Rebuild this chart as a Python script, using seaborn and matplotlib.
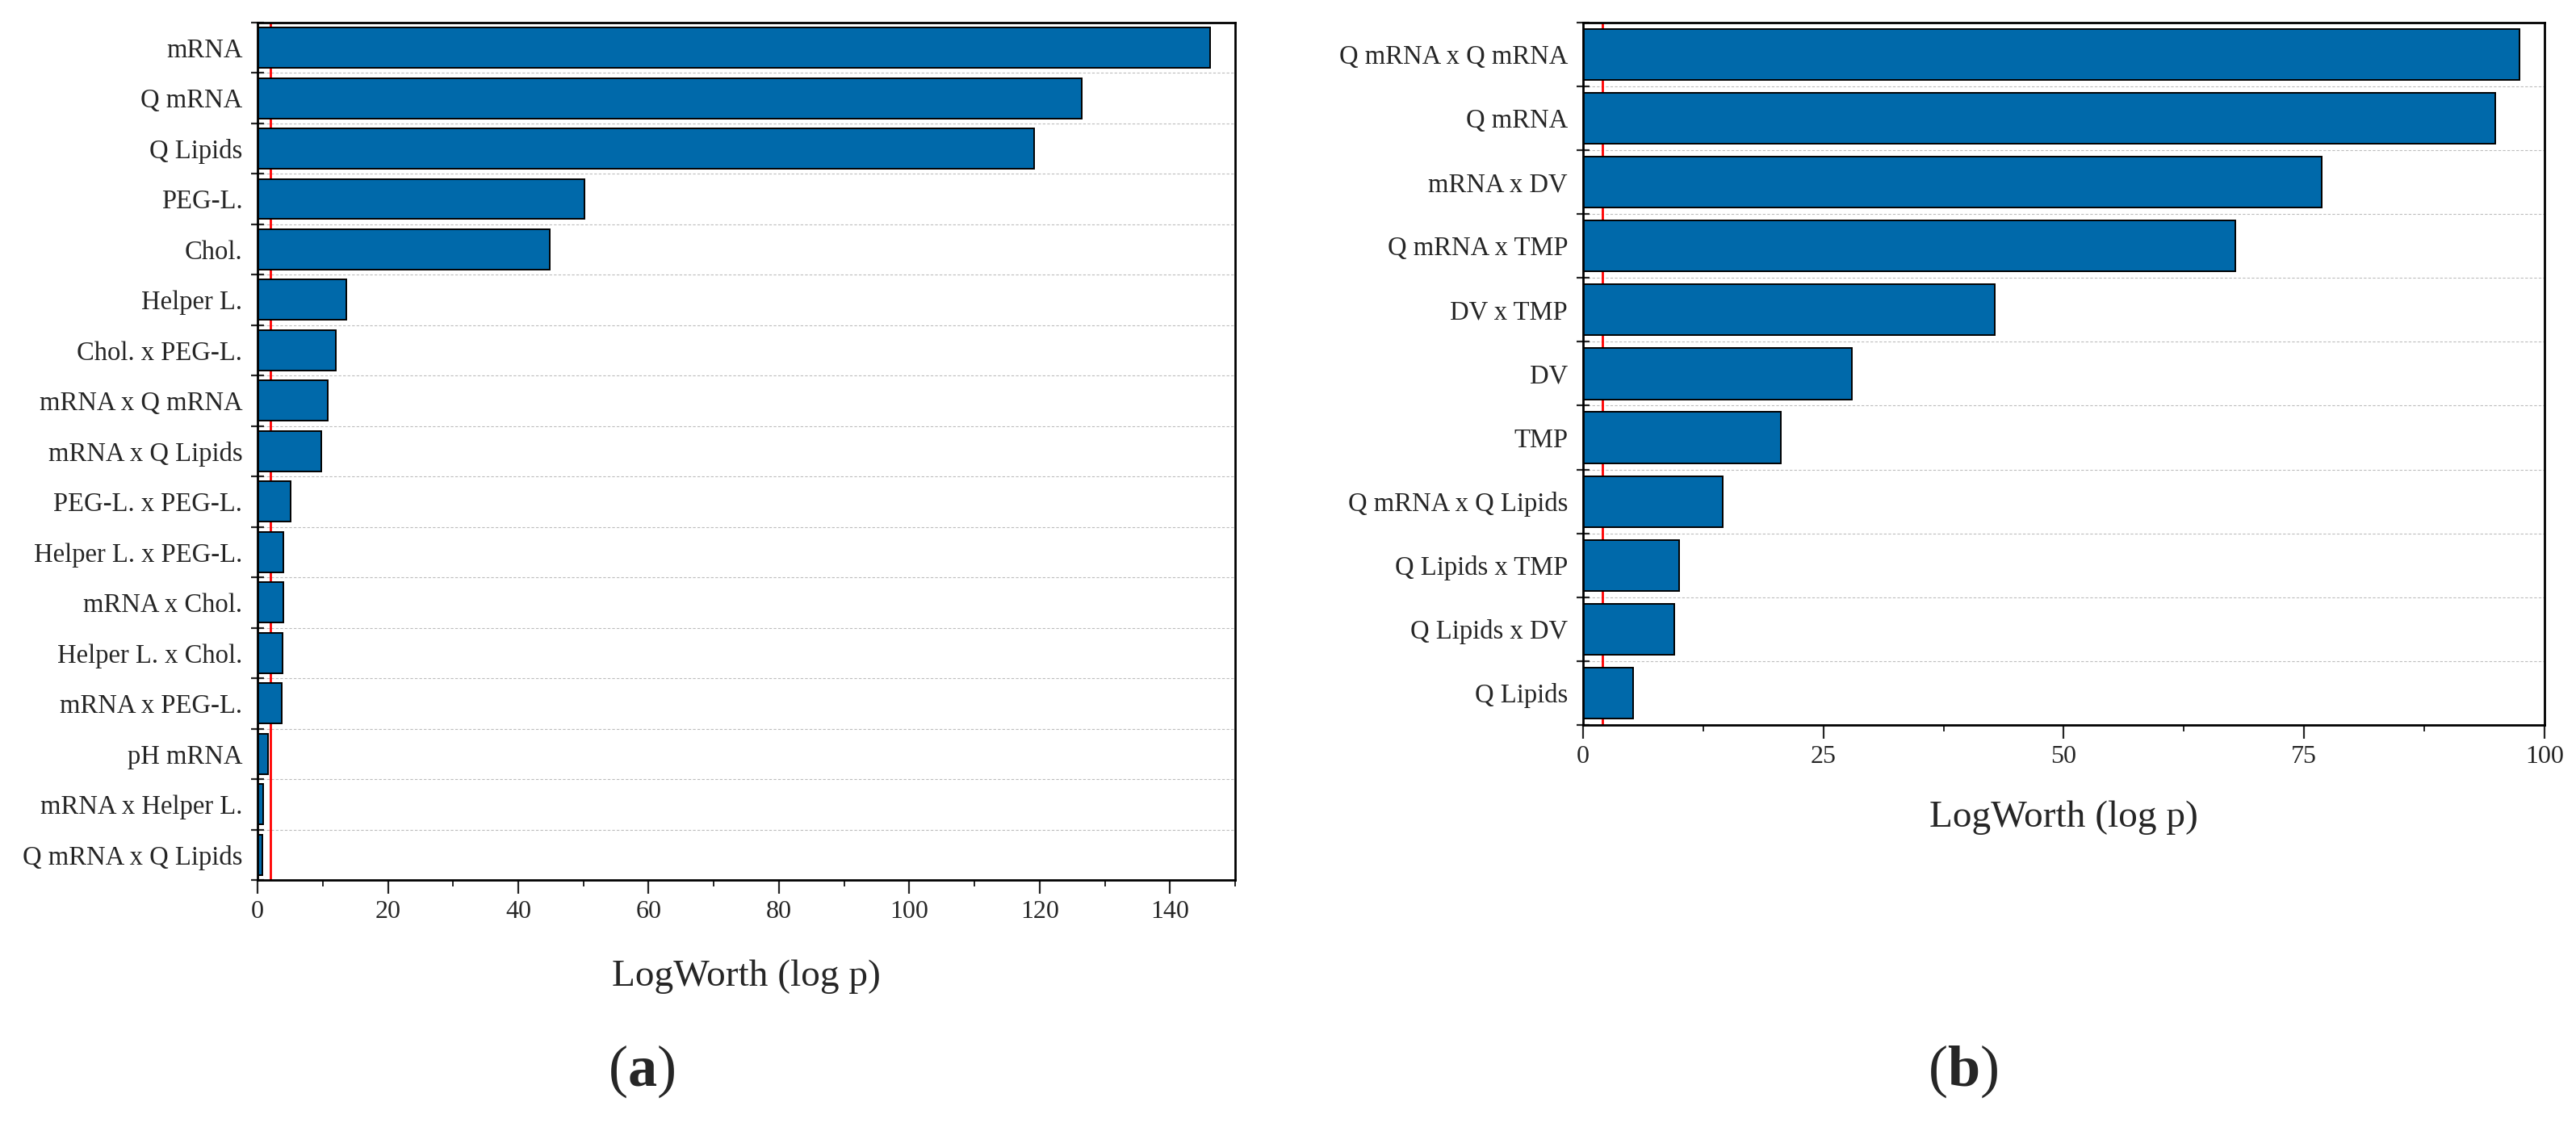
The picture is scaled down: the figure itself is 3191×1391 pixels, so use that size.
import numpy as np
import matplotlib
matplotlib.use("Agg")
import matplotlib.pyplot as plt
from matplotlib.ticker import MultipleLocator, FixedLocator
import seaborn as sns

sns.set_style("white")
plt.rcParams['font.family'] = ['Liberation Serif', 'DejaVu Serif']
plt.rcParams['mathtext.fontset'] = 'custom'
plt.rcParams['mathtext.rm'] = 'Liberation Serif'
plt.rcParams['mathtext.bf'] = 'Liberation Serif:bold'

# panel (a) effects
terms_a = ["mRNA", "Q mRNA", "Q Lipids", "PEG-L.", "Chol.", "Helper L.",
           "Chol. x PEG-L.", "mRNA x Q mRNA", "mRNA x Q Lipids",
           "PEG-L. x PEG-L.", "Helper L. x PEG-L.", "mRNA x Chol.",
           "Helper L. x Chol.", "mRNA x PEG-L.", "pH mRNA",
           "mRNA x Helper L.", "Q mRNA x Q Lipids"]
logworth_a = [146.1, 126.4, 119.1, 50.1, 44.8, 13.6, 12.0, 10.8, 9.8,
              5.1, 4.0, 3.9, 3.8, 3.7, 1.6, 0.87, 0.75]

# panel (b) effects
terms_b = ["Q mRNA x Q mRNA", "Q mRNA", "mRNA x DV", "Q mRNA x TMP",
           "DV x TMP", "DV", "TMP", "Q mRNA x Q Lipids", "Q Lipids x TMP",
           "Q Lipids x DV", "Q Lipids"]
logworth_b = [97.4, 94.9, 76.8, 67.8, 42.8, 28.0, 20.6, 14.5, 10.0, 9.5, 5.2]

threshold = 2  # p = 0.01
bar_color = "#0069AA"

fig = plt.figure(figsize=(31.91, 13.91), dpi=100)
ax_a = fig.add_axes([0.100, 0.2164, 0.3795, 0.7636])
ax_b = fig.add_axes([0.6145, 0.3544, 0.3733, 0.6256])


def draw_panel(ax, terms, vals, xmax, major, minor, label_y):
    sns.barplot(x=vals, y=terms, orient="h", color=bar_color, saturation=1,
                edgecolor="black", linewidth=1.4, width=0.8, ax=ax)
    n = len(terms)
    ax.set_xlim(0, xmax)
    ax.set_ylim(n - 0.5, -0.5)
    ax.set_axisbelow(True)
    ax.axvline(threshold, color="#ff0000", lw=2.0, zorder=0.8)

    ax.xaxis.set_major_locator(MultipleLocator(major))
    ax.xaxis.set_minor_locator(MultipleLocator(minor))
    ax.yaxis.set_minor_locator(FixedLocator(np.arange(-0.5, n, 1.0)))
    ax.tick_params(axis="x", which="major", direction="out", length=12,
                   width=1.6, pad=6, labelsize=23, bottom=True)
    ax.tick_params(axis="x", which="minor", direction="out", length=6,
                   width=1.4, bottom=True)
    ax.tick_params(axis="y", which="major", length=0, pad=13.5, labelsize=23.5)
    ax.tick_params(axis="y", which="minor", direction="inout", length=11,
                   width=1.6, left=True)
    ax.grid(which="minor", axis="y", ls=(0, (3, 2)), color="#bdbdbd", lw=0.8)
    ax.grid(which="major", visible=False)

    for s in ax.spines.values():
        s.set_visible(True)
        s.set_color("black")
        s.set_linewidth(2)

    ax.set_ylabel("")
    ax.set_xlabel("LogWorth (log p)", fontsize=34)
    ax.xaxis.set_label_coords(0.5, label_y)


draw_panel(ax_a, terms_a, logworth_a, 150, 20, 10, -0.093)
draw_panel(ax_b, terms_b, logworth_b, 100, 25, 12.5, -0.107)

fig.text(0.249, 0.046, r"($\mathbf{a}$)", fontsize=52, ha="center", va="center")
fig.text(0.762, 0.046, r"($\mathbf{b}$)", fontsize=52, ha="center", va="center")

fig.savefig("out.png", dpi=100, facecolor="white")
